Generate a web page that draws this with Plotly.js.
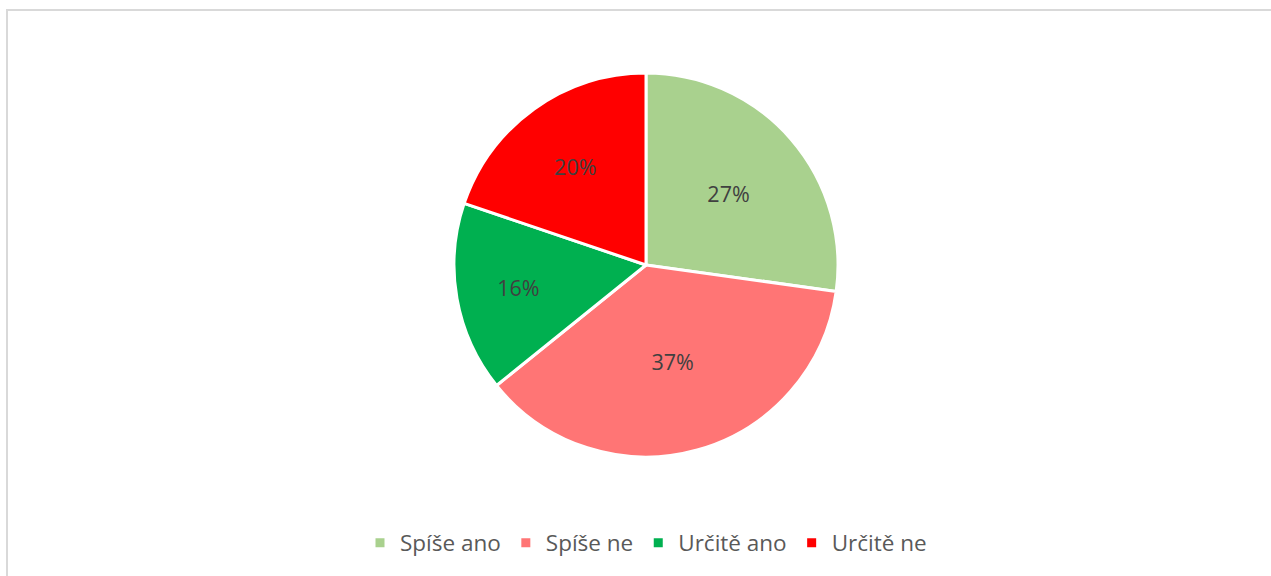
<!DOCTYPE html>
<html>
<head>
<meta charset="utf-8">
<script src="https://cdn.plot.ly/plotly-3.0.1.min.js"></script>
<style>
    body { margin: 0; background: white; overflow: hidden; }
    #frame {
        position: absolute; left: 6px; top: 9px;
        width: 1300px; height: 620px;
        border: 2px solid #d9d9d9; box-sizing: border-box;
    }
    #chart { position: absolute; left: 0; top: 0; width: 1271px; height: 576px; }
</style>
</head>
<body>
<div id="frame"></div>
<div id="chart"></div>
<script>
// Answer shares (percent of responses)
const answers = ['Spíše ano', 'Spíše ne', 'Určitě ano', 'Určitě ne'];
const shares = [27.2, 37.0, 16.0, 19.8];
const sliceColors = ['#A9D18E', '#FF7575', '#00B050', '#FF0000'];

const trace = {
    type: 'pie',
    labels: answers,
    values: shares,
    sort: false,
    direction: 'clockwise',
    rotation: 0,
    marker: {
        colors: sliceColors,
        line: { color: 'white', width: 3 }
    },
    textinfo: 'percent',
    texttemplate: '%{percent:.0%}',
    textposition: 'inside',
    insidetextorientation: 'horizontal',
    textfont: { family: '"Open Sans", sans-serif', size: 21.5, color: '#404040' },
    hoverinfo: 'label+percent'
};

const layout = {
    width: 1271,
    height: 576,
    margin: { l: 21, r: 0, t: 73, b: 119 },
    paper_bgcolor: 'rgba(0,0,0,0)',
    plot_bgcolor: 'rgba(0,0,0,0)',
    font: { family: '"Open Sans", sans-serif' },
    showlegend: true,
    legend: {
        orientation: 'h',
        x: 0.5,
        xanchor: 'center',
        y: -0.224,
        yanchor: 'middle',
        itemwidth: 30,
        font: { family: '"Open Sans", sans-serif', size: 22.5, color: '#595959' }
    }
};

Plotly.newPlot('chart', [trace], layout, { staticPlot: true });
</script>
</body>
</html>
